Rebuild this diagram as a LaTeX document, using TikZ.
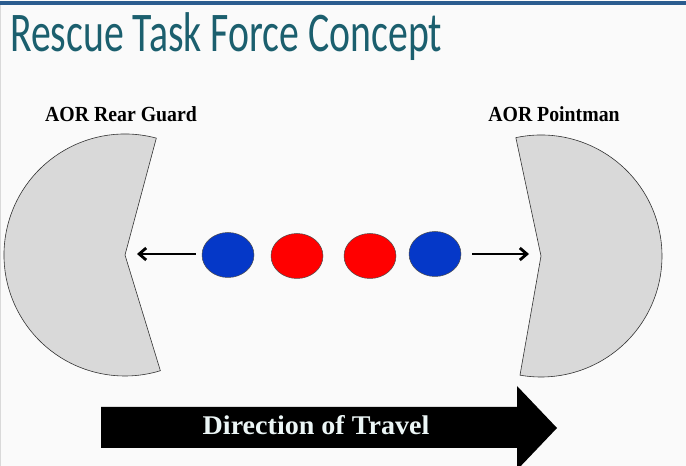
\documentclass[tikz,border=0pt]{standalone}
\usepackage{fontspec}
\usepackage{tikz}
\usetikzlibrary{shapes.geometric,arrows.meta}
\newfontfamily\titlefont[FakeStretch=0.71]{Carlito}
\newfontfamily\labelfont[FakeStretch=0.92]{Liberation Serif}
\newfontfamily\travelfont[FakeStretch=1.04]{Liberation Serif}
\definecolor{titleteal}{RGB}{27,95,110}
\definecolor{topline}{RGB}{43,92,143}
\definecolor{pacgray}{RGB}{217,217,217}
\definecolor{teamblue}{RGB}{5,56,200}
\definecolor{teamred}{RGB}{255,0,0}
\definecolor{paper}{RGB}{250,250,250}
\definecolor{traveltext}{RGB}{236,246,246}

\begin{document}
\begin{tikzpicture}[x=1pt,y=1pt,
    pac/.style={fill=pacgray, draw=black!80, line width=0.6pt},
    member/.style={ellipse, draw=black!70, line width=0.5pt, minimum width=52pt, minimum height=45pt, inner sep=0pt},
    label/.style={anchor=base, font=\labelfont\bfseries\fontsize{21.5}{24}\selectfont},
    push/.style={line width=2.8pt, -{Straight Barb[length=7pt,width=12pt]}}]
      \useasboundingbox (0,0) rectangle (686,466);
      \fill[paper] (0,0) rectangle (686,466);
      \fill[topline] (0,461) rectangle (686,464.5);
      \draw[black!15] (0.5,0) -- (0.5,461);
      \node[anchor=base west, inner sep=0pt, text=titleteal, font=\titlefont\fontsize{56}{60}\selectfont] (title) at (10,414) {Rescue Task Force Concept};
      % the two ends of the team
      \draw[pac] (125,211) -- ++(75:121) arc[start angle=75, end angle=287, radius=121] -- cycle;
      \draw[pac] (541,210) -- ++(102:121) arc[start angle=102, end angle=-100, radius=121] -- cycle;
      \node[label] (rear) at (121,344) {AOR Rear Guard};
      \node[label] (point) at (554,344) {AOR Pointman};
      \node[member, fill=teamblue] (b1) at (228,211) {};
      \node[member, fill=teamred] (r1) at (297,210) {};
      \node[member, fill=teamred] (r2) at (370,210) {};
      \node[member, fill=teamblue] (b2) at (435,212) {};
      \coordinate (rearend) at (137,212);
      \coordinate (pointend) at (529,212);
      \draw[push] (b1.west |- rearend) ++(-6,0) -- (rearend);
      \draw[push] (b2.east |- pointend) ++(11,0) -- (pointend);
      % direction arrow
      \fill[black] (101,59) -- (517,59) -- (517,80) -- (557,38) -- (517,-4) -- (517,18) -- (101,18) -- cycle;
      \node[anchor=base, text=traveltext, font=\travelfont\bfseries\fontsize{27}{29}\selectfont] (travel) at (316,31) {Direction of Travel};
      \end{tikzpicture}
\end{document}
